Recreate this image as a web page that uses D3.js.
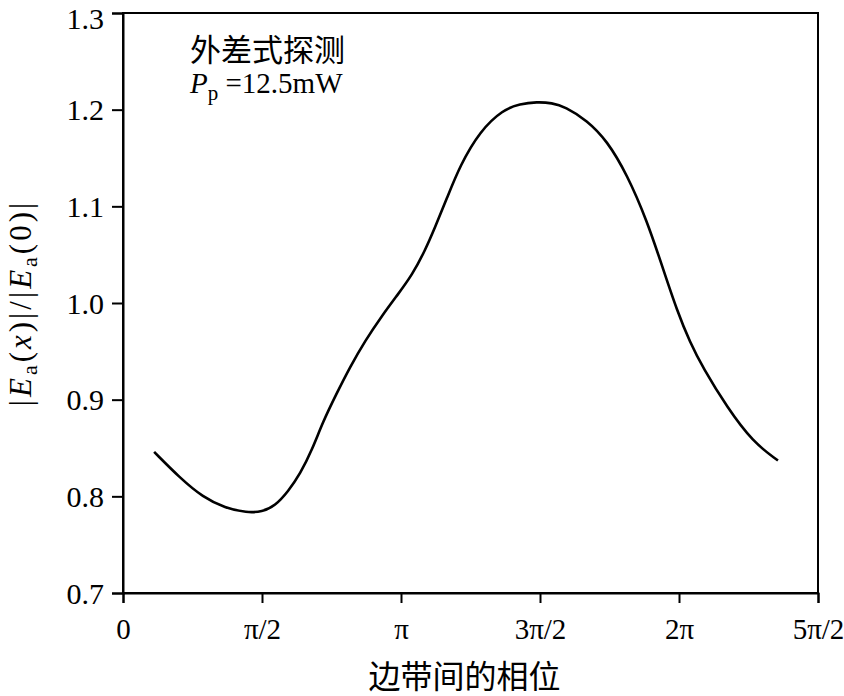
<!DOCTYPE html>
<html>
<head>
<meta charset="utf-8">
<script src="https://cdn.jsdelivr.net/npm/d3@7"></script>
<style>
  body { margin: 0; background: #fff; }
  text { font-family: "Liberation Serif", "Noto Sans CJK SC", serif; fill: #000; }
</style>
</head>
<body>
<div id="app"></div>
<script>
// phase in units of pi, amplitude ratio
var phase = [0.112, 0.205, 0.288, 0.367, 0.446, 0.500, 0.547, 0.594, 0.637, 0.680, 0.719, 0.766,
  0.817, 0.871, 0.932, 0.989, 1.040, 1.086, 1.122, 1.166, 1.212, 1.284, 1.367, 1.428, 1.489,
  1.543, 1.590, 1.669, 1.741, 1.813, 1.885, 1.942, 1.993, 2.040, 2.086, 2.173, 2.266, 2.356]
var ratio = [0.846, 0.819, 0.799, 0.788, 0.783, 0.784, 0.790, 0.805, 0.823, 0.848, 0.877, 0.905,
  0.934, 0.961, 0.987, 1.009, 1.029, 1.054, 1.078, 1.109, 1.142, 1.178, 1.200, 1.206, 1.208,
  1.207, 1.203, 1.189, 1.168, 1.133, 1.085, 1.036, 0.992, 0.959, 0.933, 0.892, 0.856, 0.837]

var xTicks = [0, 0.5, 1, 1.5, 2, 2.5]
var xTickLabels = ['0', 'π/2', 'π', '3π/2', '2π', '5π/2']
var yTicks = [0.7, 0.8, 0.9, 1.0, 1.1, 1.2, 1.3]

var data = phase.map((p, i) => ({ x: p, y: ratio[i] }))

var W = 844, H = 696
var margin = { top: 13, right: 26, bottom: 103, left: 123 }
var width = W - margin.left - margin.right,
  height = H - margin.top - margin.bottom

var svg = d3.select('#app')
  .append('svg')
  .attr('width', W)
  .attr('height', H)

var g = svg.append('g')
  .attr('transform', 'translate(' + margin.left + ',' + margin.top + ')')

var x = d3.scaleLinear().domain([0, 2.5]).range([0, width])
var y = d3.scaleLinear().domain([0.7, 1.3]).range([height, 0])

// frame
g.append('rect')
  .attr('width', width)
  .attr('height', height)
  .attr('fill', 'none')
  .attr('stroke', '#000')
  .attr('stroke-width', 2)

// axes
var xAxis = g.append('g')
  .attr('transform', 'translate(0,' + height + ')')
  .call(d3.axisBottom(x).tickValues(xTicks)
    .tickFormat((d, i) => xTickLabels[i]).tickSize(10).tickPadding(15))
var yAxis = g.append('g')
  .call(d3.axisLeft(y).tickValues(yTicks)
    .tickFormat(d3.format('.1f')).tickSize(11).tickPadding(8))

;[xAxis, yAxis].forEach(a => {
  a.select('.domain').attr('stroke', '#000').attr('stroke-width', 2)
  a.selectAll('.tick line').attr('stroke', '#000').attr('stroke-width', 2)
  a.selectAll('.tick text').attr('fill', '#000')
})
xAxis.selectAll('.tick text').style('font-size', '29px')
yAxis.selectAll('.tick text').style('font-size', '30px')
  .attr('dy', d => d === 1.3 ? '0.5em' : '0.34em') // top label kept inside the page

// curve
var line = d3.line()
  .x(d => x(d.x))
  .y(d => y(d.y))
  .curve(d3.curveBasis)

g.append('path')
  .datum(data)
  .attr('d', line)
  .attr('fill', 'none')
  .attr('stroke', '#000')
  .attr('stroke-width', 2.6)

// annotation
g.append('text')
  .attr('x', 67)
  .attr('y', 48)
  .style('font-size', '31px')
  .text('外差式探测')

var ann = g.append('text')
  .attr('x', 67)
  .attr('y', 80)
  .style('font-size', '29px')
ann.append('tspan').style('font-style', 'italic').text('P')
ann.append('tspan').attr('dy', 7).style('font-size', '21px').text('p')
ann.append('tspan').attr('dy', -7).text(' =12.5mW')

// x label
svg.append('text')
  .attr('x', margin.left + width / 2 - 6)
  .attr('y', 688)
  .attr('text-anchor', 'middle')
  .style('font-size', '32px')
  .text('边带间的相位')

// y label
var yl = svg.append('text')
  .attr('transform', 'translate(31,' + (margin.top + y(1.0)) + ') rotate(-90)')
  .attr('text-anchor', 'middle')
  .style('font-size', '31px')
  .style('letter-spacing', '3px')
yl.append('tspan').text('|')
yl.append('tspan').style('font-style', 'italic').text('E')
yl.append('tspan').attr('dy', 6).style('font-size', '22px').text('a')
yl.append('tspan').attr('dy', -6).text('(')
yl.append('tspan').style('font-style', 'italic').text('x')
yl.append('tspan').text(')|/|')
yl.append('tspan').style('font-style', 'italic').text('E')
yl.append('tspan').attr('dy', 6).style('font-size', '22px').text('a')
yl.append('tspan').attr('dy', -6).text('(0)|')
</script>
</body>
</html>
